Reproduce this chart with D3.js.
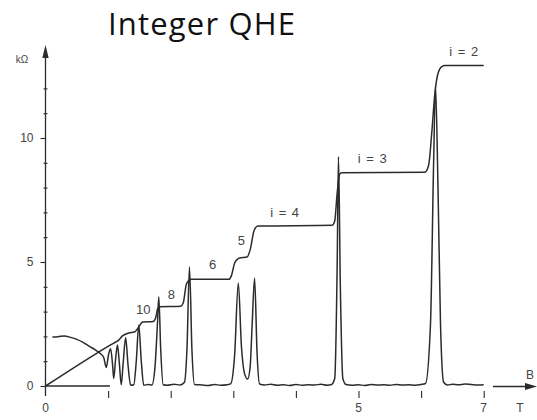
<!DOCTYPE html>
<html>
<head>
<meta charset="utf-8">
<script src="https://cdn.jsdelivr.net/npm/d3@7"></script>
<style>
  html, body { margin: 0; padding: 0; background: #fff; }
  svg { display: block; }
</style>
</head>
<body>
<svg id="chart" width="537" height="420"></svg>
<script>
// Hall resistance R_xy (kΩ) versus magnetic field B (T)
const hallTrace = [
  [0,0],[0.85,1.37],[1.0,1.6],[1.09,1.73],[1.17,1.85],[1.23,2.02],[1.33,2.14],
  [1.42,2.18],[1.49,2.38],[1.53,2.54],[1.56,2.58],[1.72,2.6],[1.76,2.75],
  [1.79,3.1],[1.82,3.2],[2.16,3.22],[2.2,3.35],[2.25,4.1],[2.3,4.28],[2.33,4.3],
  [2.93,4.3],[2.97,4.45],[3.02,4.95],[3.07,5.12],[3.1,5.16],[3.22,5.2],
  [3.27,5.5],[3.33,6.25],[3.39,6.45],[4.58,6.48],[4.62,6.65],[4.66,7.8],
  [4.7,8.55],[4.73,8.6],[6.06,8.62],[6.12,8.9],[6.17,10.2],[6.22,11.8],
  [6.27,12.6],[6.33,12.88],[6.38,12.92],[7.0,12.92]
];

// Longitudinal resistance R_xx (kΩ) versus B (T): Shubnikov–de Haas peaks
const rxxTrace = [
  [0.11,1.98],[0.2,1.99],[0.3,2.02],[0.4,1.96],[0.5,1.88],[0.6,1.76],[0.7,1.6],
  [0.8,1.45],[0.88,1.3],[0.93,1.15],[0.97,0.75],[1.01,1.3],[1.04,1.5],[1.07,0.9],
  [1.09,0.3],[1.12,1.1],[1.15,1.65],[1.18,0.9],[1.21,0.05],[1.24,0.9],[1.28,1.95],
  [1.32,0.8],[1.36,0.03],[1.41,0.05],[1.45,1.0],[1.49,2.45],[1.53,1.0],[1.57,0.03],
  [1.64,0.06],[1.70,0.04],[1.75,0.8],[1.79,2.6],[1.81,3.6],[1.84,1.5],[1.88,0.05],
  [1.95,0.03],[2.05,0.07],[2.15,0.04],[2.22,0.15],[2.26,1.5],[2.30,4.8],[2.34,1.4],
  [2.38,0.06],[2.5,0.04],[2.6,0.02],[2.7,0.06],[2.8,0.03],[2.9,0.05],[2.96,0.1],
  [3.02,1.2],[3.08,4.15],[3.13,1.6],[3.18,0.5],[3.23,0.28],[3.27,0.8],[3.30,2.4],
  [3.34,4.35],[3.38,1.3],[3.42,0.08],[3.5,0.04],[3.6,0.07],[3.7,0.03],[3.8,0.05],
  [3.9,0.02],[4.0,0.06],[4.1,0.03],[4.2,0.05],[4.3,0.04],[4.4,0.07],[4.5,0.03],
  [4.57,0.06],[4.62,0.3],[4.66,5.0],[4.68,9.25],[4.71,4.0],[4.75,0.3],[4.8,0.06],
  [4.9,0.03],[5.0,0.05],[5.1,0.02],[5.2,0.06],[5.3,0.04],[5.4,0.05],[5.5,0.03],
  [5.6,0.06],[5.7,0.04],[5.8,0.05],[5.9,0.03],[6.0,0.06],[6.07,0.1],[6.15,2.5],
  [6.2,9.0],[6.23,12.1],[6.27,8.0],[6.31,2.5],[6.36,0.15],[6.42,0.04],[6.5,0.07],
  [6.6,0.05],[6.7,0.08],[6.8,0.06],[6.9,0.04],[7.0,0.05]
];

// Plateau labels (filling factor i) placed at [B, R]
const plateauLabels = [
  { text: "10", at: [1.56, 2.9] },
  { text: "8", at: [2.01, 3.5] },
  { text: "6", at: [2.67, 4.7] },
  { text: "5", at: [3.13, 5.7] },
  { text: "i = 4", at: [3.82, 6.8] },
  { text: "i = 3", at: [5.22, 9.0] },
  { text: "i = 2", at: [6.68, 13.3] }
];

const yMajorTicks = [0, 5, 10];
const yMinorTicks = [1, 2, 3, 4, 6, 7, 8, 9, 11, 12];
const xTicks = [1, 2, 3, 4, 5, 6, 7];
const xTickLabels = [0, 5, 7];

const svg = d3.select("#chart");
const ink = "#2b2b2b";

const x = d3.scaleLinear().domain([0, 7]).range([45.5, 483.7]);
const y = d3.scaleLinear().domain([0, 10]).range([386, 138]);

// Title
svg.append("text")
  .attr("x", 108).attr("y", 35)
  .attr("font-family", "'Open Sans', sans-serif")
  .attr("font-size", 31)
  .attr("textLength", 187)
  .attr("lengthAdjust", "spacing")
  .attr("fill", "#111")
  .text("Integer QHE");

// Y axis: minor ticks crossing the axis
const yMinor = svg.append("g")
  .attr("transform", `translate(${x(0) + 2},0)`)
  .call(d3.axisLeft(y).tickValues(yMinorTicks).tickSize(4).tickSizeOuter(0).tickFormat(""));
yMinor.select(".domain").remove();

// Y axis: major ticks with labels
const yMajor = svg.append("g")
  .attr("transform", `translate(${x(0)},0)`)
  .call(d3.axisLeft(y).tickValues(yMajorTicks).tickSize(5).tickPadding(7).tickSizeOuter(0));
yMajor.select(".domain").remove();

// Y axis line with arrowhead
svg.append("line")
  .attr("x1", x(0)).attr("x2", x(0))
  .attr("y1", 396).attr("y2", 52)
  .attr("stroke", ink).attr("stroke-width", 1.3);
svg.append("path")
  .attr("d", `M${x(0)},45 L${x(0) - 3.2},58 L${x(0) + 3.2},58 Z`)
  .attr("fill", ink);
svg.append("text")
  .attr("x", 22).attr("y", 63)
  .attr("text-anchor", "middle")
  .attr("font-family", "'Liberation Sans', Arial, sans-serif")
  .attr("font-size", 10)
  .attr("fill", "#444")
  .text("kΩ");

// X axis ticks below the baseline
const xAxis = svg.append("g")
  .attr("transform", `translate(0,391)`)
  .call(d3.axisBottom(x).tickValues(xTicks).tickSize(7).tickSizeOuter(0).tickFormat(""));
xAxis.select(".domain").remove();

// X tick labels
svg.selectAll("text.xlab")
  .data(xTickLabels)
  .join("text")
  .attr("class", "xlab")
  .attr("x", d => x(d))
  .attr("y", 412)
  .attr("text-anchor", "middle")
  .attr("font-family", "'Liberation Sans', Arial, sans-serif")
  .attr("font-size", 12)
  .attr("fill", "#444")
  .text(d => d);

// Zero line near the origin
svg.append("line")
  .attr("x1", x(0)).attr("x2", x(1.03))
  .attr("y1", y(0)).attr("y2", y(0))
  .attr("stroke", ink).attr("stroke-width", 1.3);

// B arrow and units
svg.append("line")
  .attr("x1", 493).attr("x2", 528)
  .attr("y1", 386.5).attr("y2", 386.5)
  .attr("stroke", ink).attr("stroke-width", 1.3);
svg.append("path")
  .attr("d", "M537,386.5 L525,383 L525,390 Z")
  .attr("fill", ink);
svg.append("text")
  .attr("x", 530).attr("y", 379)
  .attr("text-anchor", "middle")
  .attr("font-family", "'Liberation Sans', Arial, sans-serif")
  .attr("font-size", 12)
  .attr("fill", "#444")
  .text("B");
svg.append("text")
  .attr("x", 520).attr("y", 412)
  .attr("text-anchor", "middle")
  .attr("font-family", "'Liberation Sans', Arial, sans-serif")
  .attr("font-size", 12)
  .attr("fill", "#444")
  .text("T");

// Axis styling
svg.selectAll(".tick line").attr("stroke", ink).attr("stroke-width", 1.1);
svg.selectAll(".tick text")
  .attr("font-family", "'Liberation Sans', Arial, sans-serif")
  .attr("font-size", 12)
  .attr("fill", "#444");

// Traces
const line = d3.line()
  .x(d => x(d[0]))
  .y(d => y(d[1]))
  .curve(d3.curveMonotoneX);

svg.append("path")
  .datum(rxxTrace)
  .attr("d", line)
  .attr("fill", "none")
  .attr("stroke", ink)
  .attr("stroke-width", 1.5)
  .attr("stroke-linejoin", "round");

svg.append("path")
  .datum(hallTrace)
  .attr("d", line)
  .attr("fill", "none")
  .attr("stroke", ink)
  .attr("stroke-width", 1.5)
  .attr("stroke-linejoin", "round");

// Plateau labels
svg.selectAll("text.plateau")
  .data(plateauLabels)
  .join("text")
  .attr("class", "plateau")
  .attr("x", d => x(d.at[0]))
  .attr("y", d => y(d.at[1]))
  .attr("text-anchor", "middle")
  .attr("font-family", "'Liberation Sans', Arial, sans-serif")
  .attr("font-size", 13)
  .attr("word-spacing", 2)
  .attr("fill", "#444")
  .text(d => d.text);
</script>
</body>
</html>
